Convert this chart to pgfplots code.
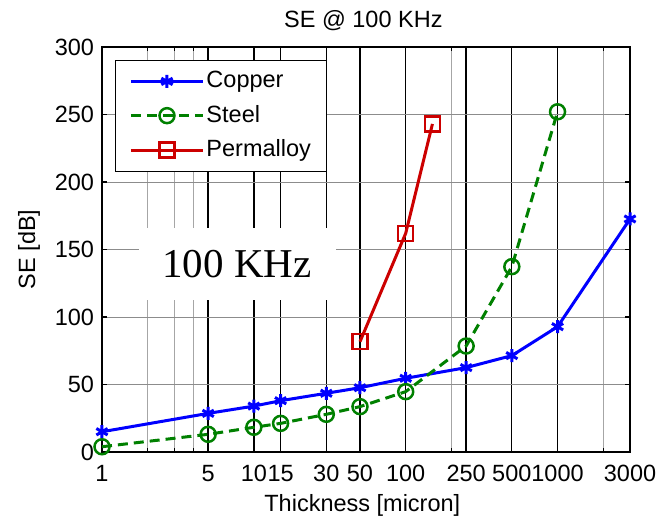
\documentclass[border=0pt]{standalone}
\usepackage{fontspec}
\setmainfont{Liberation Sans}
\newfontfamily\timesfont{Liberation Serif}
\usepackage{pgfplots}
\pgfplotsset{compat=1.18}
\definecolor{mblue}{rgb}{0,0,1}
\definecolor{mgreen}{rgb}{0,0.5,0}
\definecolor{mred}{rgb}{0.8,0,0}
\begin{document}
\fontsize{23.5}{28}\selectfont
\begin{tikzpicture}
\useasboundingbox (-102pt,-64pt) rectangle (556pt,452pt);
\begin{axis}[
  xmode=log, scale only axis, width=528pt, height=405pt,
  xmin=1, xmax=3000, ymin=0, ymax=300,
  xtick={1,5,10,15,30,50,100,250,500,1000,3000},
  xticklabels={1,5,10,15,30,50,100,250,500,1000,3000},
  minor xtick={2,3,4,200,2000},
  ytick={0,50,100,150,200,250,300},
  yticklabels={0,50,100,150,200,250,300},
  /pgf/number format/assume math mode=true,
  xticklabel style={yshift=-5pt},
  tick align=inside, tick pos=both,
  major tick length=5pt, minor tick length=4pt,
  every tick/.style={black, line width=1.2pt},
  grid=both,
  major x grid style={black, line width=1.3pt},
  minor x grid style={black!35, line width=0.9pt},
  major y grid style={black!45, line width=0.9pt},
  axis line style={black, line width=1.3pt},
  font=\fontsize{23.5}{28}\selectfont,
  title={SE @ 100 KHz},
  title style={at={(axis description cs:0.495,1.05)}, anchor=center, inner sep=0pt},
  xlabel={Thickness [micron]},
  xlabel style={at={(axis description cs:0.493,-0.131)}, anchor=center, inner sep=0pt},
  ylabel={SE [dB]},
  ylabel style={at={(axis description cs:-0.138,0.5)}, anchor=center, inner sep=0pt},
  clip=false,
  legend style={at={(axis description cs:0.0246,0.968)}, anchor=north west,
    draw=black, line width=1pt, fill=white, font=\fontsize{23.5}{28}\selectfont,
    inner xsep=14pt, inner ysep=9pt, row sep=10pt,
    /tikz/every even column/.append style={column sep=7pt}},
  legend cell align=left,
  legend image code/.code={\draw[mark repeat=2, mark phase=2, #1] plot coordinates {(0pt,0pt) (36pt,0pt) (72pt,0pt)};},
]
\addplot[mblue, line width=3pt, mark=asterisk, mark size=6.5pt, mark options={solid, line width=3pt}]
  coordinates {(1,15) (5,28.6) (10,34) (15,38) (30,43.5) (50,47.6) (100,54.6) (250,62.5) (500,71.4) (1000,92.8) (3000,172.6)};
\addlegendentry{Copper}
\addplot[mgreen, line width=3pt, dash pattern=on 10pt off 6pt, mark=o, mark size=7.5pt, mark options={solid, line width=2.5pt}]
  coordinates {(1,3.9) (5,13.1) (10,18.3) (15,21.2) (30,27.9) (50,33.6) (100,44.7) (250,78.5) (500,137.3) (1000,252)};
\addlegendentry{Steel}
\addplot[mred, line width=3pt, mark=square, mark size=7.5pt, mark options={solid, line width=2.5pt}]
  coordinates {(50,81.7) (100,162) (150,243)};
\addlegendentry{Permalloy}
\node[fill=white, inner sep=0pt, minimum width=197pt, minimum height=72pt,
  font=\timesfont\fontsize{41}{48}\selectfont] at (axis description cs:0.2557,0.464) {100 KHz};
\end{axis}
\end{tikzpicture}
\end{document}
